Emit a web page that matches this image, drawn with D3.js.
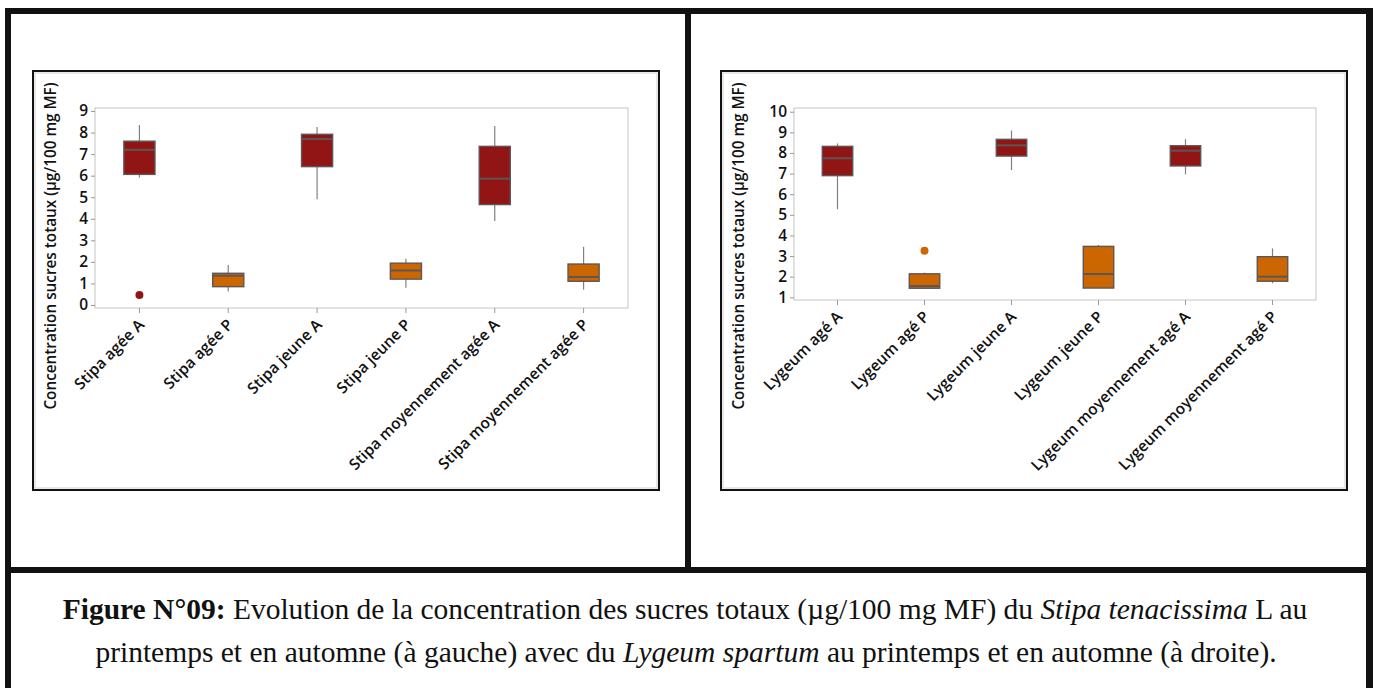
<!DOCTYPE html>
<html>
<head>
<meta charset="utf-8">
<script src="https://cdn.jsdelivr.net/npm/d3@7"></script>
<style>
  html, body { margin: 0; padding: 0; background: #fff; }
  svg { display: block; }
  .tick text { font-family: "Open Sans", sans-serif; }
</style>
</head>
<body>
<svg id="fig" width="1373" height="688"></svg>
<script>
// ---- data ----
const stipaCategories = ["Stipa agée A", "Stipa agée P", "Stipa jeune A", "Stipa jeune P",
    "Stipa moyennement agée A", "Stipa moyennement agée P"];
const stipaWhiskerLow  = [5.91, 0.63, 4.91, 0.80, 3.90, 0.71];
const stipaQ1          = [6.06, 0.85, 6.42, 1.20, 4.66, 1.10];
const stipaMedian      = [7.20, 1.36, 7.70, 1.60, 5.86, 1.30];
const stipaQ3          = [7.60, 1.47, 7.92, 1.94, 7.36, 1.90];
const stipaWhiskerHigh = [8.35, 1.85, 8.26, 2.15, 8.30, 2.70];
const stipaOutliers    = [[0.46], [], [], [], [], []];
const stipaTicks       = [0, 1, 2, 3, 4, 5, 6, 7, 8, 9];

const lygeumCategories = ["Lygeum agé A", "Lygeum agé P", "Lygeum jeune A", "Lygeum jeune P",
    "Lygeum moyennement agé A", "Lygeum moyennement agé P"];
const lygeumWhiskerLow  = [5.27, 1.44, 7.17, 1.45, 6.96, 1.68];
const lygeumQ1          = [6.90, 1.44, 7.85, 1.45, 7.37, 1.78];
const lygeumMedian      = [7.74, 1.55, 8.37, 2.13, 8.11, 2.00];
const lygeumQ3          = [8.32, 2.14, 8.66, 3.47, 8.35, 2.97];
const lygeumWhiskerHigh = [8.46, 2.20, 9.09, 3.54, 8.67, 3.37];
const lygeumOutliers    = [[], [3.26], [], [], [], []];
const lygeumTicks       = [1, 2, 3, 4, 5, 6, 7, 8, 9, 10];

const yTitle = "Concentration sucres totaux (µg/100 mg MF)";

const colorA = "#921515";
const colorP = "#cc6600";

const svg = d3.select("#fig");

// ---- page frame (thick table borders) ----
const frame = svg.append("g").attr("fill", "#111");
frame.append("rect").attr("x", 5).attr("y", 8).attr("width", 1367).attr("height", 6);
frame.append("rect").attr("x", 5).attr("y", 8).attr("width", 6).attr("height", 690);
frame.append("rect").attr("x", 1366).attr("y", 8).attr("width", 7).attr("height", 690);
frame.append("rect").attr("x", 5).attr("y", 567).attr("width", 1367).attr("height", 6);
frame.append("rect").attr("x", 685).attr("y", 8).attr("width", 6).attr("height", 562);

function drawPanel(opts) {
    const g = svg.append("g");

    // chart border: black with a faint grey inner line
    g.append("rect")
        .attr("x", opts.frame[0]).attr("y", opts.frame[1])
        .attr("width", opts.frame[2]).attr("height", opts.frame[3])
        .attr("fill", "#fff").attr("stroke", "#111").attr("stroke-width", 2);
    g.append("rect")
        .attr("x", opts.frame[0] + 2).attr("y", opts.frame[1] + 2)
        .attr("width", opts.frame[2] - 4).attr("height", opts.frame[3] - 4)
        .attr("fill", "none").attr("stroke", "#d0d0d0").attr("stroke-width", 1);

    const [left, top, right, bottom] = opts.plot;

    const x = d3.scaleBand()
        .domain(opts.categories)
        .range([left, right])
        .padding(0);

    const y = d3.scaleLinear()
        .domain(opts.yDomain)
        .range([bottom, top]);

    // plot area border
    g.append("rect")
        .attr("x", left).attr("y", top)
        .attr("width", right - left).attr("height", bottom - top)
        .attr("fill", "none").attr("stroke", "#c4c4c4").attr("stroke-width", 1);

    // y axis
    const yAxis = g.append("g")
        .attr("transform", "translate(" + left + ",0)")
        .call(d3.axisLeft(y).tickValues(opts.ticks).tickSize(4).tickPadding(3));
    yAxis.select(".domain").remove();
    yAxis.selectAll(".tick line").attr("stroke", "#999");
    yAxis.selectAll(".tick text")
        .attr("font-size", 15.5).attr("font-weight", 600).attr("fill", "#111");

    // x axis
    const xAxis = g.append("g")
        .attr("transform", "translate(0," + bottom + ")")
        .call(d3.axisBottom(x).tickSize(5).tickPadding(4));
    xAxis.select(".domain").remove();
    xAxis.selectAll(".tick line").attr("stroke", "#999");
    xAxis.selectAll(".tick text")
        .attr("font-size", 15.5).attr("font-weight", 600).attr("fill", "#111")
        .attr("text-anchor", "end")
        .attr("y", 0)
        .attr("transform", "translate(2,14) rotate(-45)")
        .attr("dy", "0.35em");

    // y title
    g.append("text")
        .attr("transform", "translate(" + opts.titleX + "," + opts.titleY + ") rotate(-90)")
        .attr("text-anchor", "middle")
        .attr("font-family", "Open Sans, sans-serif")
        .attr("font-size", 15.3).attr("font-weight", 600).attr("fill", "#111")
        .text(yTitle);

    // boxes
    const boxW = x.bandwidth() * 0.35;
    const rows = opts.categories.map((c, i) => ({
        cat: c,
        lo: opts.low[i], q1: opts.q1[i], med: opts.median[i], q3: opts.q3[i], hi: opts.high[i],
        out: opts.outliers[i],
        color: c.endsWith("A") ? colorA : colorP
    }));

    const box = g.selectAll("g.box").data(rows).enter()
        .append("g").attr("class", "box")
        .attr("transform", d => "translate(" + (x(d.cat) + x.bandwidth() / 2) + ",0)");

    box.append("line")
        .attr("x1", 0).attr("x2", 0)
        .attr("y1", d => y(d.hi)).attr("y2", d => y(d.q3))
        .attr("stroke", "#808080").attr("stroke-width", 1.2);
    box.append("line")
        .attr("x1", 0).attr("x2", 0)
        .attr("y1", d => y(d.q1)).attr("y2", d => y(d.lo))
        .attr("stroke", "#808080").attr("stroke-width", 1.2);

    box.append("rect")
        .attr("x", -boxW / 2).attr("width", boxW)
        .attr("y", d => y(d.q3))
        .attr("height", d => Math.max(0, y(d.q1) - y(d.q3)))
        .attr("fill", d => d.color)
        .attr("stroke", "#5e5656").attr("stroke-width", 1.4);

    box.append("line")
        .attr("x1", -boxW / 2).attr("x2", boxW / 2)
        .attr("y1", d => y(d.med)).attr("y2", d => y(d.med))
        .attr("stroke", "#5e5656").attr("stroke-width", 2);

    box.selectAll("circle")
        .data(d => d.out.map(v => ({ v: v, color: d.color })))
        .enter().append("circle")
        .attr("cx", 0).attr("cy", d => y(d.v)).attr("r", 4)
        .attr("fill", d => d.color);
}

drawPanel({
    frame: [33, 71, 626, 419],
    plot: [95, 108, 628, 308],
    yDomain: [-0.14, 9.14],
    ticks: stipaTicks,
    categories: stipaCategories,
    low: stipaWhiskerLow, q1: stipaQ1, median: stipaMedian, q3: stipaQ3, high: stipaWhiskerHigh,
    outliers: stipaOutliers,
    titleX: 56, titleY: 246
});

drawPanel({
    frame: [721, 71, 626, 419],
    plot: [794, 108, 1316, 300],
    yDomain: [0.87, 10.18],
    ticks: lygeumTicks,
    categories: lygeumCategories,
    low: lygeumWhiskerLow, q1: lygeumQ1, median: lygeumMedian, q3: lygeumQ3, high: lygeumWhiskerHigh,
    outliers: lygeumOutliers,
    titleX: 744, titleY: 246
});

// ---- caption ----
const cap = svg.append("g")
    .attr("font-family", "Liberation Serif, Times New Roman, serif")
    .attr("font-size", 29.5).attr("fill", "#111")
    .attr("text-anchor", "middle");

const line1 = cap.append("text").attr("x", 685).attr("y", 619);
line1.append("tspan").attr("font-weight", "bold").text("Figure N°09:");
line1.append("tspan").text(" Evolution de la concentration des sucres totaux (µg/100 mg MF) du ");
line1.append("tspan").attr("font-style", "italic").text("Stipa tenacissima");
line1.append("tspan").text(" L au");

const line2 = cap.append("text").attr("x", 686).attr("y", 662);
line2.append("tspan").text("printemps et en automne (à gauche) avec du ");
line2.append("tspan").attr("font-style", "italic").text("Lygeum spartum");
line2.append("tspan").text(" au printemps et en automne (à droite).");
</script>
</body>
</html>
